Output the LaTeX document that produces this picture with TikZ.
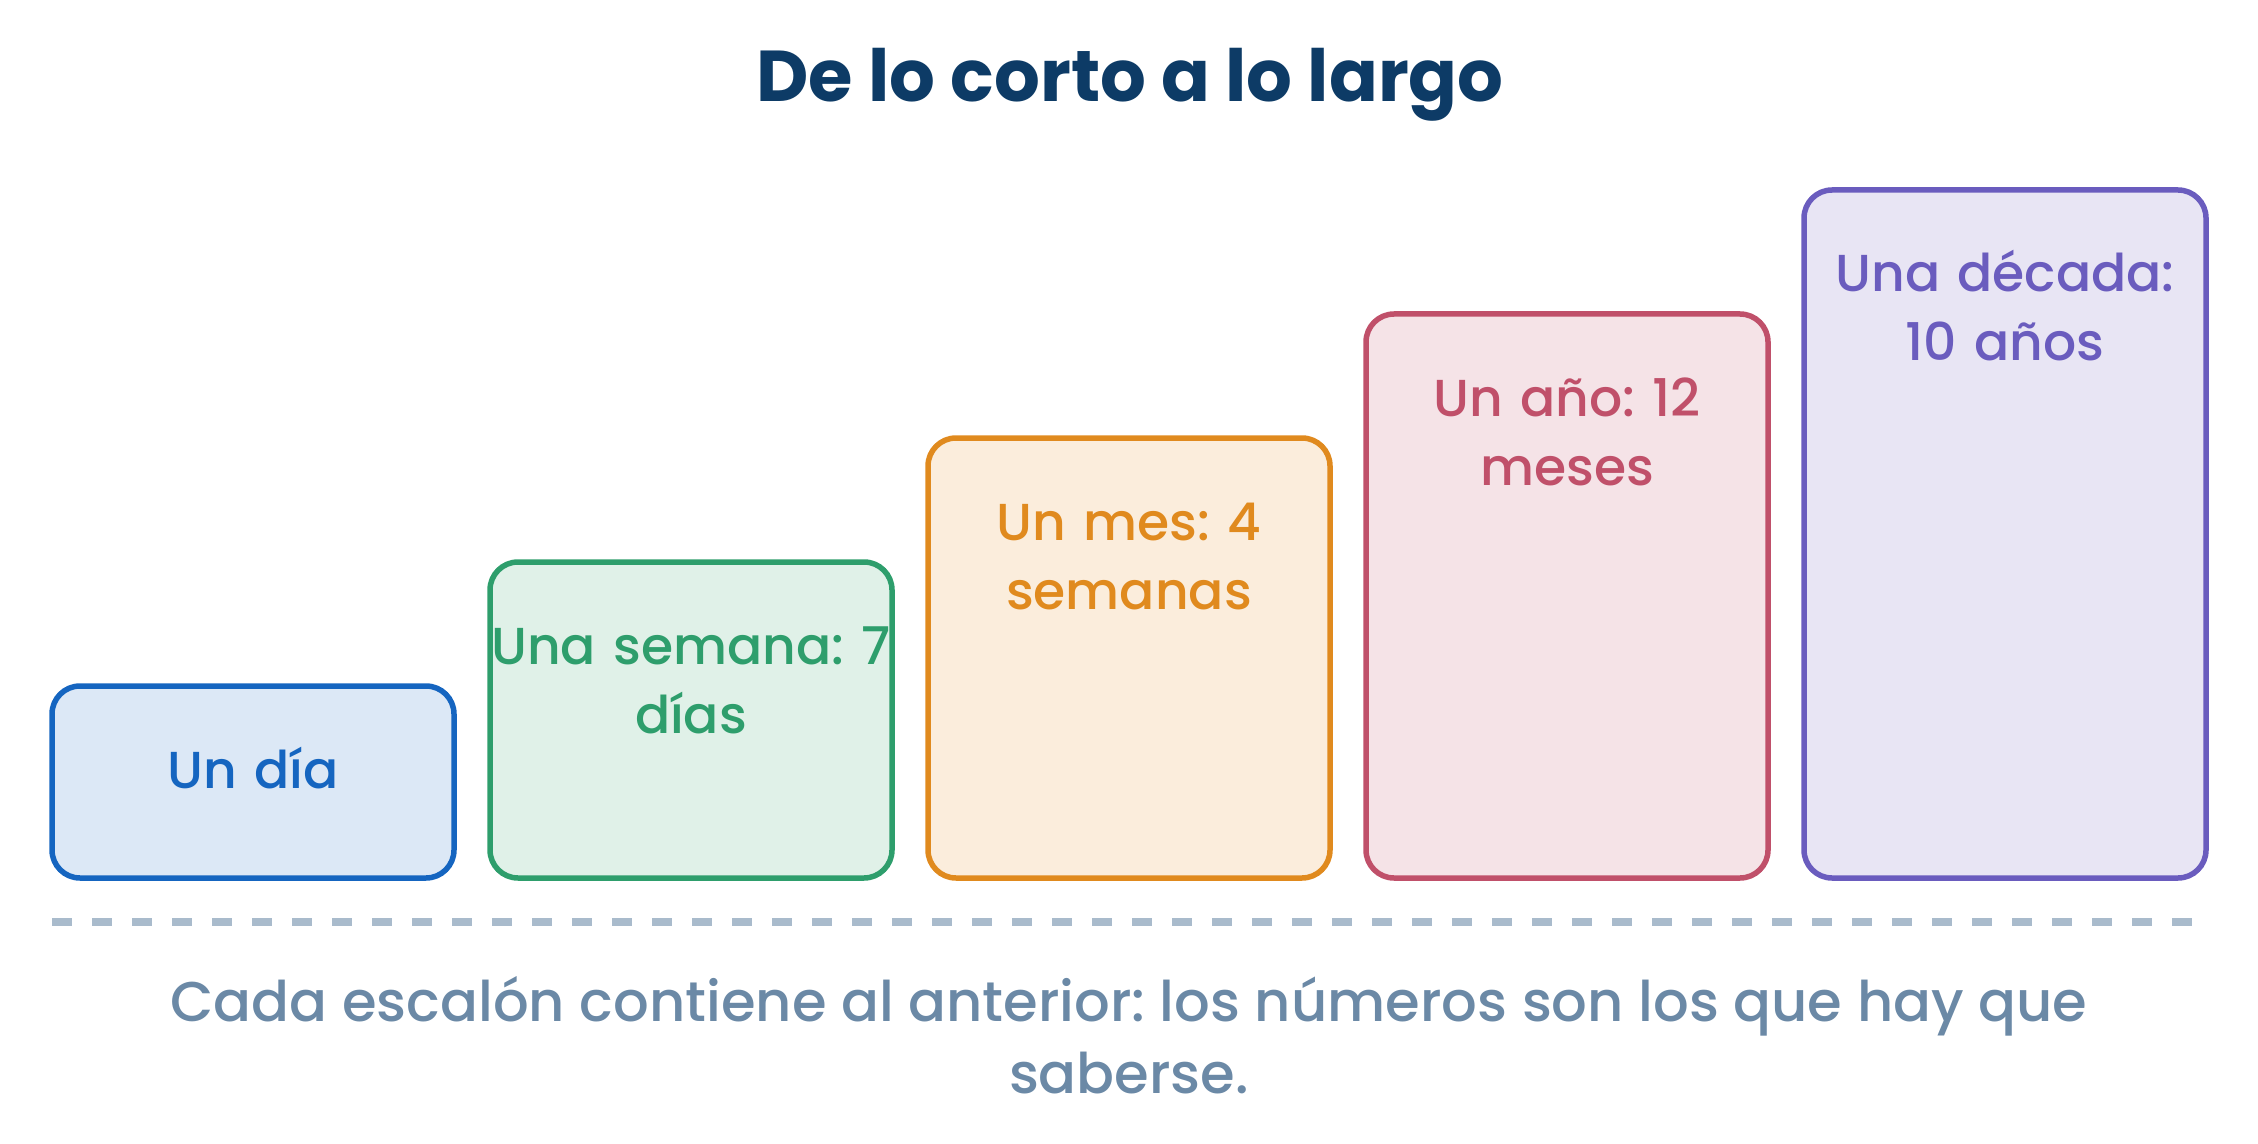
\documentclass[tikz,border=0pt]{standalone}
\usepackage{fontspec}
\setmainfont{Poppins}
\newfontfamily\medfont{Poppins Medium}
\frenchspacing
\definecolor{titlec}{HTML}{0D3B66}
\definecolor{c1}{HTML}{1565C0}\definecolor{f1}{HTML}{DCE8F6}
\definecolor{c2}{HTML}{2E9E6C}\definecolor{f2}{HTML}{E0F1E8}
\definecolor{c3}{HTML}{E08A1E}\definecolor{f3}{HTML}{FBEDDC}
\definecolor{c4}{HTML}{C0506A}\definecolor{f4}{HTML}{F5E3E7}
\definecolor{c5}{HTML}{6A5CBE}\definecolor{f5}{HTML}{E8E5F4}
\definecolor{footc}{HTML}{6B89A6}
\definecolor{dashc}{HTML}{A9BBCC}
\tikzset{
  stepbox/.style={rectangle, rounded corners=14pt, line width=2.75pt,
    minimum width=201pt, anchor=north west, inner sep=0pt, outer sep=0pt},
  lbl/.style={anchor=base, align=center, text width=230pt, inner sep=0pt,
    font=\medfont\fontsize{26pt}{34.5pt}\selectfont},
}
\begin{document}
\begin{tikzpicture}[x=0.5pt,y=-0.5pt]
\useasboundingbox (0,0) rectangle (2258,1144);
\node[anchor=base, inner sep=0pt, text=titlec, font=\fontsize{36pt}{40pt}\selectfont\bfseries] (title) at (1130,102) {De lo corto a lo largo};
\node[stepbox, draw=c1, fill=f1, minimum height=96pt] (b1) at (52,686) {};
\node[stepbox, draw=c2, fill=f2, minimum height=158pt] (b2) at (490,562) {};
\node[stepbox, draw=c3, fill=f3, minimum height=220pt] (b3) at (928,438) {};
\node[stepbox, draw=c4, fill=f4, minimum height=282pt] (b4) at (1366,314) {};
\node[stepbox, draw=c5, fill=f5, minimum height=344pt] (b5) at (1804,190) {};
\node[lbl, text=c1] (t1) at ([yshift=-51pt]b1.north) {Un día};
\node[lbl, text=c2] (t2) at ([yshift=-51pt]b2.north) {Una semana: 7\\días};
\node[lbl, text=c3] (t3) at ([yshift=-51pt]b3.north) {Un mes: 4\\semanas};
\node[lbl, text=c4] (t4) at ([yshift=-51pt]b4.north) {Un año: 12\\meses};
\node[lbl, text=c5] (t5) at ([yshift=-51pt]b5.north) {Una década:\\10 años};
\coordinate (dl) at (52,922);
\coordinate (dr) at (2206,922);
\draw[dashc, line width=4pt, dash pattern=on 10pt off 10pt] (dl) -- (dr);
\node[anchor=base, align=center, inner sep=0pt, text=footc, font=\medfont\fontsize{28pt}{36pt}\selectfont] (foot) at (1129,1093) {Cada escalón contiene al anterior: los números son los que hay que\\saberse.};
\end{tikzpicture}
\end{document}
